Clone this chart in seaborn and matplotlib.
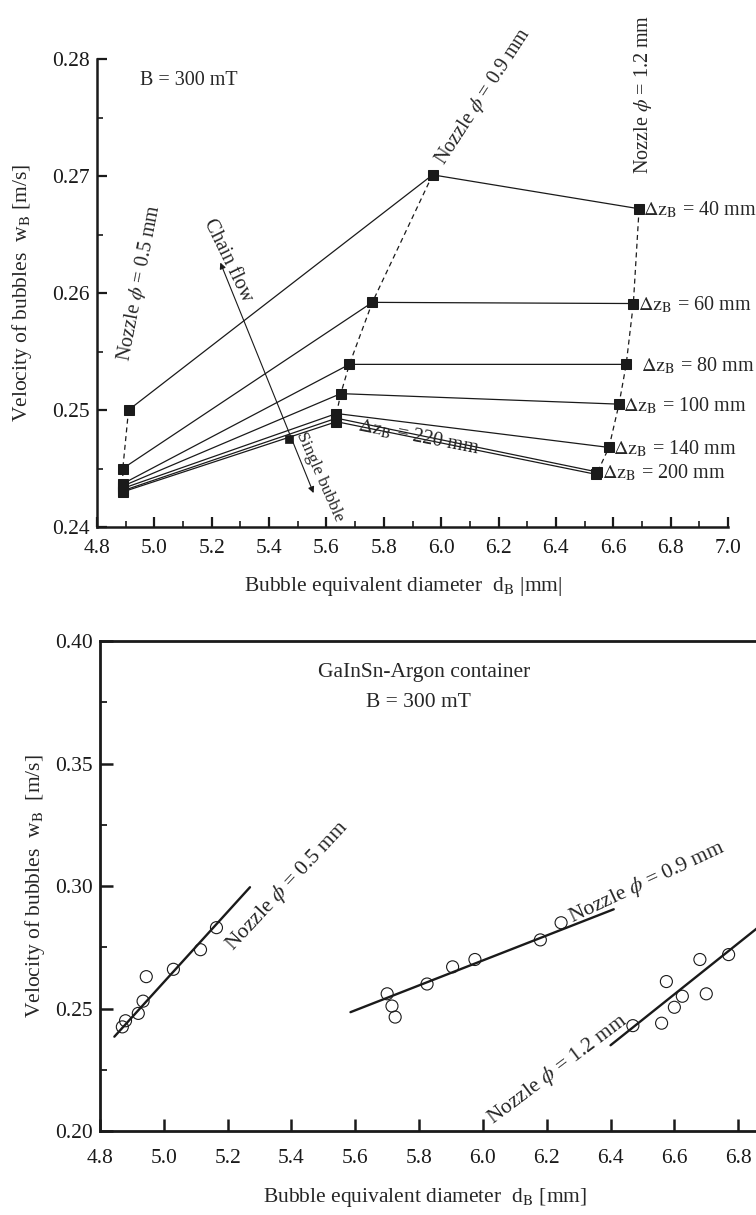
import numpy as np
import pandas as pd
import seaborn as sns
import matplotlib
matplotlib.use("Agg")
import matplotlib.pyplot as plt

# ---------------- data (top panel) ----------------
dz_mm = [40, 60, 80, 100, 140, 200, 220]
d_nozzle05 = [4.91, 4.89, 4.89, 4.89, 4.89, 4.89, 4.89]
w_nozzle05 = [0.2500, 0.2450, 0.2437, 0.2435, 0.2433, 0.2431, 0.2430]
d_nozzle09 = [5.97, 5.76, 5.68, 5.65, 5.635, 5.635, 5.635]
w_nozzle09 = [0.2701, 0.2592, 0.2539, 0.2514, 0.2497, 0.2493, 0.2490]
d_nozzle12 = [6.69, 6.67, 6.645, 6.62, 6.585, 6.545, 6.54]
w_nozzle12 = [0.2672, 0.2591, 0.2539, 0.2505, 0.2468, 0.2447, 0.2445]
single_d = [5.47]
single_w = [0.2475]
chain_arrow_d = [5.23, 5.555]
chain_arrow_w = [0.2626, 0.2429]

# ---------------- data (bottom panel) ----------------
c05_d = [4.87, 4.88, 4.92, 4.935, 4.945, 5.03, 5.115, 5.165]
c05_w = [0.2425, 0.2450, 0.2480, 0.2530, 0.2630, 0.2660, 0.2740, 0.2830]
c09_d = [5.70, 5.715, 5.725, 5.825, 5.905, 5.975, 6.18, 6.245]
c09_w = [0.2560, 0.2510, 0.2465, 0.2600, 0.2670, 0.2700, 0.2780, 0.2850]
c12_d = [6.47, 6.56, 6.575, 6.60, 6.625, 6.68, 6.70, 6.77]
c12_w = [0.2430, 0.2440, 0.2610, 0.2505, 0.2550, 0.2700, 0.2560, 0.2720]
fit05_d = [4.845, 5.27]
fit05_w = [0.2385, 0.2995]
fit09_d = [5.585, 6.41]
fit09_w = [0.2485, 0.2905]
fit12_d = [6.40, 6.90]
fit12_w = [0.2350, 0.2870]

x_ticks_top = [4.8, 5.0, 5.2, 5.4, 5.6, 5.8, 6.0, 6.2, 6.4, 6.6, 6.8, 7.0]
y_ticks_top = [0.24, 0.25, 0.26, 0.27, 0.28]
x_ticks_bot = [4.8, 5.0, 5.2, 5.4, 5.6, 5.8, 6.0, 6.2, 6.4, 6.6, 6.8]
y_ticks_bot = [0.20, 0.25, 0.30, 0.35, 0.40]

# ---------------- style ----------------
sns.set_theme(style="ticks")
plt.rcParams['font.family'] = ['Liberation Serif', 'DejaVu Serif']
plt.rcParams['mathtext.fontset'] = 'stix'
plt.rcParams['axes.unicode_minus'] = False

FS = 15.5
FA = 14.5
fig = plt.figure(figsize=(7.56, 12.15), dpi=100)
fig.patch.set_facecolor('white')

# ================= TOP PANEL =================
ax1 = fig.add_axes([97/756, 1-527/1215, 631/756, 468/1215])
ax1.set_facecolor('white')

for i, dz in enumerate(dz_mm):
    xs = [d_nozzle05[i], d_nozzle09[i], d_nozzle12[i]]
    ys = [w_nozzle05[i], w_nozzle09[i], w_nozzle12[i]]
    sns.lineplot(x=xs, y=ys, sort=False, estimator=None, ax=ax1, color='k',
                 lw=0.9, marker='s', markersize=6.5, markeredgecolor='k',
                 markerfacecolor='k', zorder=3)

for dd, ww in [(d_nozzle05, w_nozzle05), (d_nozzle09, w_nozzle09), (d_nozzle12, w_nozzle12)]:
    sns.lineplot(x=dd, y=ww, sort=False, estimator=None, ax=ax1, color='k',
                 lw=0.9, linestyle=(0, (4, 3)), zorder=2)

sns.scatterplot(x=single_d, y=single_w, ax=ax1, marker='s', s=40, color='k',
                edgecolor='k', zorder=4)

ax1.annotate('', xy=(chain_arrow_d[1], chain_arrow_w[1]),
             xytext=(chain_arrow_d[0], chain_arrow_w[0]),
             arrowprops=dict(arrowstyle='<|-|>', lw=0.8, color='k',
                             mutation_scale=9, shrinkA=0, shrinkB=0))

ax1.set_xlim(4.8, 7.0)
ax1.set_ylim(0.24, 0.28)
ax1.set_xticks(x_ticks_top)
ax1.set_yticks(y_ticks_top)
ax1.set_xticklabels([f"{v:.1f}" for v in x_ticks_top])
ax1.set_yticklabels([f"{v:.2f}" for v in y_ticks_top])
ax1.xaxis.set_minor_locator(matplotlib.ticker.MultipleLocator(0.1))
ax1.yaxis.set_minor_locator(matplotlib.ticker.MultipleLocator(0.005))
ax1.tick_params(which='major', direction='in', length=7, width=1.6, labelsize=FS, pad=5, colors='k')
ax1.tick_params(which='minor', direction='in', length=4, width=1.2, colors='k')
ax1.tick_params(axis='x', which='major', pad=8.5)
for s in ['top', 'right']:
    ax1.spines[s].set_visible(False)
for s in ['left', 'bottom']:
    ax1.spines[s].set_linewidth(1.8)
    ax1.spines[s].set_color('k')

ax1.set_xlabel(r"Bubble equivalent diameter  d$_\mathrm{B}$ |mm|", fontsize=FS)
ax1.set_ylabel(r"Velocity of bubbles  w$_\mathrm{B}$ [m/s]", fontsize=FS)
ax1.xaxis.set_label_coords(0.486, -0.103)
ax1.yaxis.set_label_coords(-0.10, 0.5)

ax1.text(4.95, 0.2782, "B = 300 mT", fontsize=FA, ha='left', va='center')
ax1.text(4.947, 0.2609, r"Nozzle $\phi$ = 0.5 mm", fontsize=FA, rotation=79,
         ha='center', va='center', rotation_mode='anchor')
ax1.text(6.147, 0.2768, r"Nozzle $\phi$ = 0.9 mm", fontsize=FA, rotation=57,
         ha='center', va='center', rotation_mode='anchor', clip_on=False)
ax1.text(6.705, 0.2770, r"Nozzle $\phi$ = 1.2 mm", fontsize=FA, rotation=90,
         ha='center', va='center', rotation_mode='anchor', clip_on=False)
ax1.text(5.257, 0.2628, "Chain flow", fontsize=FA, rotation=-64,
         ha='center', va='center', rotation_mode='anchor')
ax1.text(5.578, 0.2443, "Single bubble", fontsize=12.5, rotation=-66,
         ha='center', va='center', rotation_mode='anchor')
ax1.text(5.92, 0.2477, r"$\Delta\mathrm{z}_\mathrm{B}$ = 220 mm", fontsize=FA, rotation=-11,
         ha='center', va='center', rotation_mode='anchor')

label_gap = [3, 3, 11, 3, 3, 3]
for i in range(6):
    ax1.annotate(r"$\Delta\mathrm{z}_\mathrm{B}$ = %d mm" % dz_mm[i],
                 xy=(d_nozzle12[i], w_nozzle12[i]), xytext=(label_gap[i], -1),
                 textcoords='offset points', ha='left', va='center',
                 fontsize=FA, annotation_clip=False)

# ================= BOTTOM PANEL =================
ax2 = fig.add_axes([100/756, 1-1131/1215, 702/756, 490/1215])
ax2.set_facecolor('white')

for cd, cw in [(c05_d, c05_w), (c09_d, c09_w), (c12_d, c12_w)]:
    sns.scatterplot(x=cd, y=cw, ax=ax2, marker='o', s=75, facecolor='none',
                    edgecolor='k', linewidth=0.8, zorder=3)
for fd, fw in [(fit05_d, fit05_w), (fit09_d, fit09_w), (fit12_d, fit12_w)]:
    sns.lineplot(x=fd, y=fw, sort=False, estimator=None, ax=ax2, color='k',
                 lw=1.7, zorder=2)

ax2.set_xlim(4.8, 7.0)
ax2.set_ylim(0.20, 0.40)
ax2.set_xticks(x_ticks_bot)
ax2.set_yticks(y_ticks_bot)
ax2.set_xticklabels([f"{v:.1f}" for v in x_ticks_bot])
ax2.set_yticklabels([f"{v:.2f}" for v in y_ticks_bot])
ax2.yaxis.set_minor_locator(matplotlib.ticker.MultipleLocator(0.025))
ax2.tick_params(which='major', direction='in', length=9, width=1.8, labelsize=FS, pad=5, colors='k')
ax2.tick_params(which='minor', direction='in', length=5, width=1.3, colors='k')
ax2.tick_params(axis='x', which='major', pad=13)
for s in ['top', 'right', 'left', 'bottom']:
    ax2.spines[s].set_linewidth(2.0)
    ax2.spines[s].set_color('k')

ax2.set_xlabel(r"Bubble equivalent diameter  d$_\mathrm{B}$ [mm]", fontsize=FS)
ax2.set_ylabel(r"Velocity of bubbles  w$_\mathrm{B}$  [m/s]", fontsize=FS)
ax2.xaxis.set_label_coords(0.463, -0.112)
ax2.yaxis.set_label_coords(-0.075, 0.5)

ax2.text(5.816, 0.3873, "GaInSn-Argon container", fontsize=FS, ha='center', va='center')
ax2.text(5.797, 0.3747, "B = 300 mT", fontsize=FS, ha='center', va='center')
ax2.text(5.386, 0.300, r"Nozzle $\phi$ = 0.5 mm", fontsize=FS, rotation=47,
         ha='center', va='center', rotation_mode='anchor')
ax2.text(6.515, 0.3016, r"Nozzle $\phi$ = 0.9 mm", fontsize=FS, rotation=25,
         ha='center', va='center', rotation_mode='anchor')
ax2.text(6.233, 0.2253, r"Nozzle $\phi$ = 1.2 mm", fontsize=FS, rotation=37,
         ha='center', va='center', rotation_mode='anchor')

fig.savefig("out.png", dpi=100, facecolor='white')
